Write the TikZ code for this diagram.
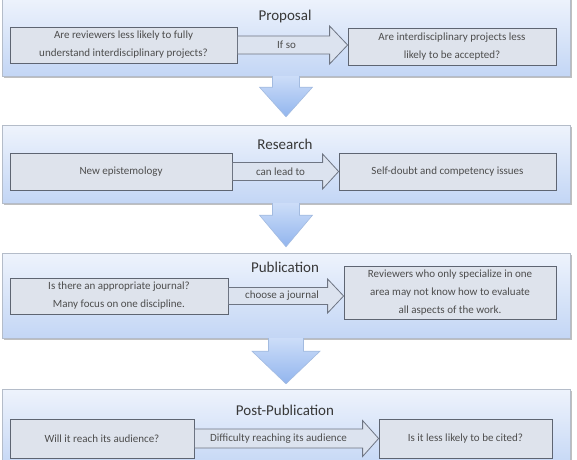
\documentclass[tikz,border=0pt]{standalone}
\usepackage{fontspec}
\setmainfont{Carlito}
\usetikzlibrary{calc,shadows}
\definecolor{panTop}{HTML}{EEF3FC}
\definecolor{panBot}{HTML}{C3D6F5}
\definecolor{panLine}{HTML}{B4BCC9}
\definecolor{boxFill}{HTML}{DEE3EC}
\definecolor{boxLine}{HTML}{5E6572}
\definecolor{boxText}{HTML}{4D4D4D}
\definecolor{ttlText}{HTML}{383838}
\definecolor{barFill}{HTML}{DCE3EF}
\definecolor{barLine}{HTML}{6E7583}
\definecolor{dTop}{HTML}{CCDDF8}
\definecolor{dBot}{HTML}{92B5EE}
\definecolor{dLine}{HTML}{A3BBE0}
\begin{document}
\begin{tikzpicture}[x=1pt,y=1pt,
    panel/.style={draw=panLine, top color=panTop, bottom color=panBot, minimum width=568pt, inner sep=0pt,
      drop shadow={shadow xshift=1.5pt, shadow yshift=-1.5pt, fill=black, opacity=.25}},
    box/.style={draw=boxLine, fill=boxFill, text=boxText, align=center, inner sep=2pt, line width=0.8pt,
      font=\fontsize{11}{18}\selectfont},
    ttl/.style={text=ttlText, font=\fontsize{15}{18}\selectfont},
    hbar/.style={draw=barLine, fill=barFill, line width=0.8pt},
    lbl/.style={text=boxText, inner sep=0pt, font=\fontsize{11}{13}\selectfont},
    darrow/.style={draw=dLine, top color=dTop, bottom color=dBot, line width=0.6pt}]
  \useasboundingbox (0,0) rectangle (577,459);
  % stage panels
  \node[panel, minimum height=79pt] (pan1) at (286,422.5) {};
  \node[panel, minimum height=78pt] (pan2) at (286,295) {};
  \node[panel, minimum height=85pt] (pan3) at (286,163.5) {};
  \node[panel, minimum height=81pt] (pan4) at (286,29.5) {};
  \node[ttl] (t1) at (285,442) {Proposal};
  \node[ttl] (t2) at (285,315) {Research};
  \node[ttl] (t3) at (285,192) {Publication};
  \node[ttl] (t4) at (285,49) {Post-Publication};
  % down arrows between stages
  \path[darrow] let \p1=(pan1.south), \p2=(pan2.north) in
    (\x1-13.5pt,\y1) -- (\x1-13.5pt,\y1-11pt) -- (\x1-26.5pt,\y1-11pt) -- (\x1,\y2+8pt)
    -- (\x1+26.5pt,\y1-11pt) -- (\x1+13.5pt,\y1-11pt) -- (\x1+13.5pt,\y1);
  \path[darrow] let \p1=(pan2.south), \p2=(pan3.north) in
    (\x1-13.5pt,\y1) -- (\x1-13.5pt,\y1-12pt) -- (\x1-26.5pt,\y1-12pt) -- (\x1,\y2+6pt)
    -- (\x1+26.5pt,\y1-12pt) -- (\x1+13.5pt,\y1-12pt) -- (\x1+13.5pt,\y1);
  \path[darrow] let \p1=(pan3.south), \p2=(pan4.north) in
    (\x1-17.5pt,\y1) -- (\x1-17.5pt,\y1-13pt) -- (\x1-34pt,\y1-13pt) -- (\x1,\y2+5pt)
    -- (\x1+34pt,\y1-13pt) -- (\x1+17.5pt,\y1-13pt) -- (\x1+17.5pt,\y1);
  % boxes
  \node[box, minimum width=227pt, minimum height=36pt] (p1l) at (123.5,414)
    {Are reviewers less likely to fully\\understand interdisciplinary projects?};
  \node[box, minimum width=208pt, minimum height=37pt] (p1r) at (452,412.5)
    {Are interdisciplinary projects less\\likely to be accepted?};
  \node[box, minimum width=222pt, minimum height=37pt] (p2l) at (121,287.5) {New epistemology};
  \node[box, minimum width=217pt, minimum height=37pt] (p2r) at (447.5,287.5) {Self-doubt and competency issues};
  \node[box, minimum width=218pt, minimum height=36pt] (p3l) at (119,163)
    {Is there an appropriate journal?\\Many focus on one discipline.};
  \node[box, minimum width=212pt, minimum height=53pt] (p3r) at (450,166.5)
    {Reviewers who only specialize in one\\area may not know how to evaluate\\all aspects of the work.};
  \node[box, minimum width=184pt, minimum height=39pt] (p4l) at (102,20.5) {Will it reach its audience?};
  \node[box, minimum width=173pt, minimum height=39pt] (p4r) at (465.5,20.5) {Is it less likely to be cited?};
  % block arrows inside the stages
  \draw[hbar] let \p1=(p1l.east), \p2=(p1r.west) in
    (\x1,\y1+9pt) -- (\x2-18pt,\y1+9pt) -- (\x2-18pt,\y1+19pt) -- (\x2,\y1)
    -- (\x2-18pt,\y1-19pt) -- (\x2-18pt,\y1-9pt) -- (\x1,\y1-9pt) -- cycle
    node[lbl] (c1) at ({(\x1+\x2-18pt)/2+3pt},\y1) {If so};
  \draw[hbar] let \p1=(p2l.east), \p2=(p2r.west) in
    (\x1,\y1+9pt) -- (\x2-16pt,\y1+9pt) -- (\x2-16pt,\y1+17.5pt) -- (\x2,\y1)
    -- (\x2-16pt,\y1-17.5pt) -- (\x2-16pt,\y1-9pt) -- (\x1,\y1-9pt) -- cycle
    node[lbl] (c2) at ({(\x1+\x2-16pt)/2+3pt},\y1) {can lead to};
  \draw[hbar] let \p1=(p3l.east), \p2=(p3r.west) in
    (\x1,\y1+8.5pt) -- (\x2-16pt,\y1+8.5pt) -- (\x2-16pt,\y1+17pt) -- (\x2,\y1)
    -- (\x2-16pt,\y1-17pt) -- (\x2-16pt,\y1-8.5pt) -- (\x1,\y1-8.5pt) -- cycle
    node[lbl] (c3) at ({(\x1+\x2-16pt)/2+4pt},\y1) {choose a journal};
  \draw[hbar] let \p1=(p4l.east), \p2=(p4r.west) in
    (\x1,\y1+9.5pt) -- (\x2-16pt,\y1+9.5pt) -- (\x2-16pt,\y1+18pt) -- (\x2,\y1)
    -- (\x2-16pt,\y1-18pt) -- (\x2-16pt,\y1-9.5pt) -- (\x1,\y1-9.5pt) -- cycle
    node[lbl] (c4) at ({(\x1+\x2-16pt)/2},\y1) {Difficulty reaching its audience};
\end{tikzpicture}
\end{document}
